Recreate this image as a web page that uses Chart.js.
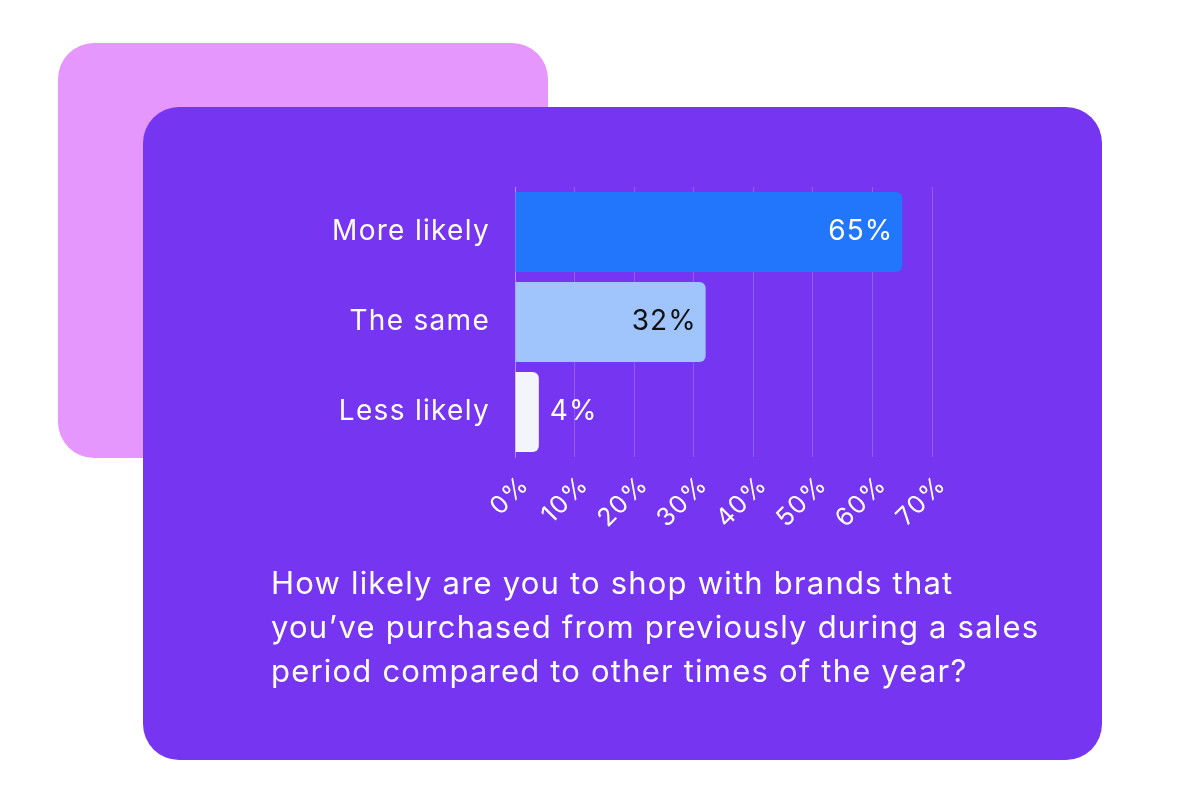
<!DOCTYPE html>
<html>
<head>
<meta charset="utf-8">
<script src="https://cdn.jsdelivr.net/npm/chart.js@4.4.1/dist/chart.umd.min.js"></script>
<style>
  html, body { margin: 0; padding: 0; background: #fff; }
  #stage { position: relative; width: 1200px; height: 800px; overflow: hidden; font-family: Inter, sans-serif; }
  .back { position: absolute; left: 58px; top: 43px; width: 490px; height: 415px; border-radius: 36px; background: #e697fe; }
  .card { position: absolute; left: 143px; top: 107px; width: 959px; height: 653px; border-radius: 36px; background: #7635f1; }
  #chart { position: absolute; left: 0; top: 0; }
  .question { position: absolute; left: 271px; top: 561px; color: #fff; font-size: 31px; line-height: 44px; letter-spacing: 1.2px; }
</style>
</head>
<body>
<div id="stage">
  <div class="back"></div>
  <div class="card"></div>
  <canvas id="chart" width="1200" height="800"></canvas>
  <div class="question">How likely are you to shop with brands that<br>you’ve purchased from previously during a sales<br>period compared to other times of the year?</div>
</div>
<script>
const categories = ['More likely', 'The same', 'Less likely'];
const shares = [65, 32, 4];
const barColors = ['#2176fc', '#a0c4fc', '#f4f5fb'];
const labelColors = ['#ffffff', '#111111', '#ffffff'];
const axisMax = 70;

// wider tracking on all canvas text, closer to the original's geometric face
const tracking = {
  id: 'tracking',
  beforeDraw(chart) { chart.ctx.letterSpacing = '1.3px'; },
  afterDraw(chart) { chart.ctx.letterSpacing = '0px'; }
};

// value labels: inside the bar end when it fits, otherwise just past it
const valueLabels = {
  id: 'valueLabels',
  afterDatasetsDraw(chart) {
    const ctx = chart.ctx;
    const meta = chart.getDatasetMeta(0);
    ctx.save();
    ctx.letterSpacing = '1px';
    ctx.font = '28px Inter, sans-serif';
    ctx.textBaseline = 'middle';
    meta.data.forEach((bar, i) => {
      const text = shares[i] + '%';
      ctx.fillStyle = labelColors[i];
      if (shares[i] >= 10) {
        ctx.textAlign = 'right';
        ctx.fillText(text, bar.x - 9, bar.y);
      } else {
        ctx.textAlign = 'left';
        ctx.fillText(text, bar.x + 11, bar.y);
      }
    });
    ctx.restore();
  }
};

new Chart(document.getElementById('chart'), {
  type: 'bar',
  data: {
    labels: categories,
    datasets: [{
      data: shares,
      backgroundColor: barColors,
      borderRadius: { topLeft: 0, bottomLeft: 0, topRight: 6, bottomRight: 6 },
      borderSkipped: false,
      barPercentage: 0.89,
      categoryPercentage: 1
    }]
  },
  options: {
    indexAxis: 'y',
    responsive: false,
    animation: false,
    devicePixelRatio: 1,
    layout: { padding: { top: 187, right: 268, left: 0, bottom: 0 } },
    plugins: { legend: { display: false }, tooltip: { enabled: false } },
    scales: {
      x: {
        min: 0,
        max: axisMax,
        ticks: {
          stepSize: 10,
          color: '#ffffff',
          font: { size: 25, family: 'Inter' },
          minRotation: 45,
          maxRotation: 45,
          padding: 13,
          labelOffset: 10,
          callback: v => v + '%'
        },
        grid: { color: 'rgba(255,255,255,0.2)', drawTicks: false },
        border: { display: false },
        afterFit: s => { s.height = 343; }
      },
      y: {
        ticks: {
          color: '#ffffff',
          font: { size: 28, family: 'Inter' },
          padding: 25
        },
        grid: { display: false, drawTicks: false },
        border: { color: 'rgba(255,255,255,0.3)' },
        afterFit: s => { s.width = 515; }
      }
    }
  },
  plugins: [tracking, valueLabels]
});
</script>
</body>
</html>
